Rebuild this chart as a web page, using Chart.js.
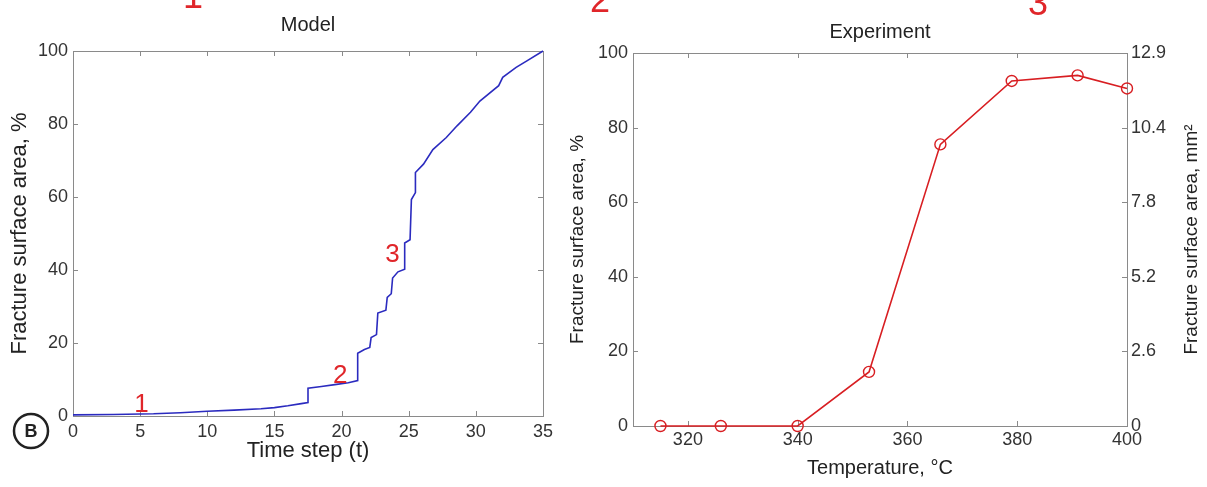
<!DOCTYPE html>
<html>
<head>
<meta charset="utf-8">
<script src="https://cdn.jsdelivr.net/npm/chart.js@4.4.1/dist/chart.umd.min.js"></script>
<style>
	html, body { margin: 0; padding: 0; background: #fff; }
	body { width: 1207px; height: 487px; position: relative; overflow: hidden; }
	.panel { position: absolute; top: 0; }
	#modelPanel { left: 0; }
	#expPanel { left: 560px; }
</style>
</head>
<body>
<div class="panel" id="modelPanel"><canvas id="modelChart" width="560" height="487"></canvas></div>
<div class="panel" id="expPanel"><canvas id="expChart" width="647" height="487"></canvas></div>
<script>
const FONT = "'Liberation Sans', Arial, Helvetica, sans-serif";
const AXIS_COLOR = "#8a8a8a";
const TEXT_COLOR = "#222";

// model: fractured surface vs time step (steps repeat the x value)
const modelTime = [0, 3, 6, 8, 10, 12, 14, 15, 16, 17, 17.5, 17.5, 18.5, 19.5, 20.5, 21.2, 21.2, 21.7, 22.1, 22.2, 22.6, 22.7, 23.3, 23.4, 23.7, 23.8, 24.2, 24.7, 24.7, 25.1, 25.2, 25.5, 25.5, 26.1, 26.8, 27.8, 28.6, 29.6, 30.3, 31.7, 32.0, 33.0, 33.8, 35];
const modelArea = [0.3, 0.4, 0.6, 0.9, 1.3, 1.6, 2.0, 2.3, 2.8, 3.4, 3.7, 7.6, 8.1, 8.6, 9.1, 9.7, 17.2, 18.2, 18.8, 21.5, 22.3, 28.2, 29.0, 32.5, 33.5, 37.8, 39.5, 40.2, 47.4, 48.3, 59.3, 61.2, 66.7, 69, 73, 76.3, 79.5, 83.2, 86.3, 90.5, 92.8, 95.5, 97.3, 100];

// red stage numbers on the model curve
const stageLabels = ["1", "2", "3"];
const stageTime = [5.1, 19.9, 23.8];
const stageArea = [1.1, 9.1, 42.3];

// experiment: fractured surface vs temperature
const expTemp = [315, 326, 340, 353, 366, 379, 391, 400];
const expArea = [0, 0, 0, 14.5, 75.5, 92.5, 94, 90.5];
const expTicksX = [320, 340, 360, 380, 400];
const mm2Labels = ["0", "2.6", "5.2", "7.8", "10.4", "12.9"];

const tickFont = { family: FONT, size: 18 };

// MATLAB style box with inward tick marks
const framePlugin = {
	id: "frame",
	beforeDatasetsDraw(chart) {
		const { ctx, chartArea: a, scales } = chart;
		ctx.save();
		ctx.strokeStyle = AXIS_COLOR;
		ctx.lineWidth = 1;
		ctx.strokeRect(a.left + 0.5, a.top + 0.5, a.width, a.height);
		ctx.beginPath();
		scales.x.ticks.forEach((t) => {
			const px = Math.round(scales.x.getPixelForValue(t.value)) + 0.5;
			ctx.moveTo(px, a.bottom);
			ctx.lineTo(px, a.bottom - 5);
			ctx.moveTo(px, a.top);
			ctx.lineTo(px, a.top + 5);
		});
		scales.y.ticks.forEach((t) => {
			const py = Math.round(scales.y.getPixelForValue(t.value)) + 0.5;
			ctx.moveTo(a.left, py);
			ctx.lineTo(a.left + 5, py);
			ctx.moveTo(a.right, py);
			ctx.lineTo(a.right - 5, py);
		});
		ctx.stroke();
		ctx.restore();
	},
};

const modelNotes = {
	id: "modelNotes",
	afterDraw(chart) {
		const { ctx, scales } = chart;
		ctx.save();
		ctx.fillStyle = "#e0262a";
		ctx.textAlign = "center";
		ctx.textBaseline = "alphabetic";
		ctx.font = "26px " + FONT;
		stageLabels.forEach((s, i) => {
			ctx.fillText(s, scales.x.getPixelForValue(stageTime[i]), scales.y.getPixelForValue(stageArea[i]));
		});
		// panel number cut off at the top edge
		ctx.font = "36px " + FONT;
		ctx.fillText("1", 193, 8);

		// circled panel letter
		ctx.strokeStyle = "#222";
		ctx.lineWidth = 2.5;
		ctx.beginPath();
		ctx.arc(31, 431, 17, 0, Math.PI * 2);
		ctx.stroke();
		ctx.fillStyle = "#222";
		ctx.font = "bold 18px " + FONT;
		ctx.textBaseline = "middle";
		ctx.fillText("B", 31, 432);
		ctx.restore();
	},
};

const expNotes = {
	id: "expNotes",
	afterDraw(chart) {
		const { ctx, chartArea: a } = chart;
		ctx.save();
		ctx.fillStyle = "#e0262a";
		ctx.textAlign = "center";
		ctx.font = "36px " + FONT;
		ctx.fillText("2", 40, 12);
		ctx.fillText("3", 478, 15);

		// right axis title reads bottom to top like the left one
		ctx.fillStyle = TEXT_COLOR;
		ctx.font = "19px " + FONT;
		ctx.textBaseline = "middle";
		ctx.translate(632, (a.top + a.bottom) / 2);
		ctx.rotate(-Math.PI / 2);
		ctx.fillText("Fracture surface area, mm\u00B2", 0, 0);
		ctx.restore();
	},
};

new Chart(document.getElementById("modelChart"), {
	type: "scatter",
	data: {
		datasets: [
			{
				data: modelTime.map((t, i) => ({ x: t, y: modelArea[i] })),
				showLine: true,
				borderColor: "#2b2bbf",
				borderWidth: 1.6,
				pointRadius: 0,
				tension: 0,
				clip: false,
			},
		],
	},
	options: {
		responsive: false,
		animation: false,
		layout: { padding: { left: 0, right: 17, top: 0, bottom: 0 } },
		plugins: {
			legend: { display: false },
			tooltip: { enabled: false },
			title: {
				display: true,
				text: "Model",
				fullSize: false,
				color: TEXT_COLOR,
				font: { family: FONT, size: 20, weight: "normal" },
				padding: { top: 13, bottom: 14 },
			},
		},
		scales: {
			x: {
				type: "linear",
				min: 0,
				max: 35,
				grid: { display: false, drawTicks: false },
				border: { display: false },
				ticks: { stepSize: 5, padding: 5, color: "#333", font: tickFont, maxRotation: 0 },
				title: {
					display: true,
					text: "Time step (t)",
					color: TEXT_COLOR,
					font: { family: FONT, size: 22 },
					padding: { top: 0, bottom: 23 },
				},
				afterFit: (s) => {
					s.height = 71;
				},
			},
			y: {
				min: 0,
				max: 100,
				grid: { display: false, drawTicks: false },
				border: { display: false },
				ticks: { stepSize: 20, padding: 5, color: "#333", font: tickFont },
				title: {
					display: true,
					text: "Fracture surface area, %",
					color: TEXT_COLOR,
					font: { family: FONT, size: 22 },
					padding: { top: 7, bottom: 0 },
				},
				afterFit: (s) => {
					s.width = 73;
				},
			},
		},
	},
	plugins: [framePlugin, modelNotes],
});

new Chart(document.getElementById("expChart"), {
	type: "scatter",
	data: {
		datasets: [
			{
				data: expTemp.map((t, i) => ({ x: t, y: expArea[i] })),
				showLine: true,
				borderColor: "#d81e22",
				borderWidth: 1.6,
				pointStyle: "circle",
				pointRadius: 5.5,
				pointBorderColor: "#d81e22",
				pointBackgroundColor: "rgba(0,0,0,0)",
				pointBorderWidth: 1.4,
				tension: 0,
				clip: false,
			},
		],
	},
	options: {
		responsive: false,
		animation: false,
		layout: { padding: 0 },
		plugins: {
			legend: { display: false },
			tooltip: { enabled: false },
			title: {
				display: true,
				text: "Experiment",
				fullSize: false,
				color: TEXT_COLOR,
				font: { family: FONT, size: 20, weight: "normal" },
				padding: { top: 20, bottom: 9 },
			},
		},
		scales: {
			x: {
				type: "linear",
				min: 310,
				max: 400,
				grid: { display: false, drawTicks: false },
				border: { display: false },
				ticks: { padding: 3, color: "#333", font: tickFont, maxRotation: 0 },
				afterBuildTicks: (s) => {
					s.ticks = expTicksX.map((v) => ({ value: v }));
				},
				title: {
					display: true,
					text: "Temperature, \u00B0C",
					color: TEXT_COLOR,
					font: { family: FONT, size: 20 },
					padding: { top: 0, bottom: 7 },
				},
				afterFit: (s) => {
					s.height = 61;
				},
			},
			y: {
				min: 0,
				max: 100,
				grid: { display: false, drawTicks: false },
				border: { display: false },
				ticks: { stepSize: 20, padding: 5, color: "#333", font: tickFont },
				title: {
					display: true,
					text: "Fracture surface area, %",
					color: TEXT_COLOR,
					font: { family: FONT, size: 19 },
					padding: { top: 6, bottom: 0 },
				},
				afterFit: (s) => {
					s.width = 73;
				},
			},
			y2: {
				display: true,
				position: "right",
				min: 0,
				max: 100,
				grid: { display: false, drawTicks: false },
				border: { display: false },
				ticks: {
					stepSize: 20,
					padding: 4,
					color: "#333",
					font: tickFont,
					callback: (v, i) => mm2Labels[i],
				},
				afterFit: (s) => {
					s.width = 80;
				},
			},
		},
	},
	plugins: [framePlugin, expNotes],
});
</script>
</body>
</html>
